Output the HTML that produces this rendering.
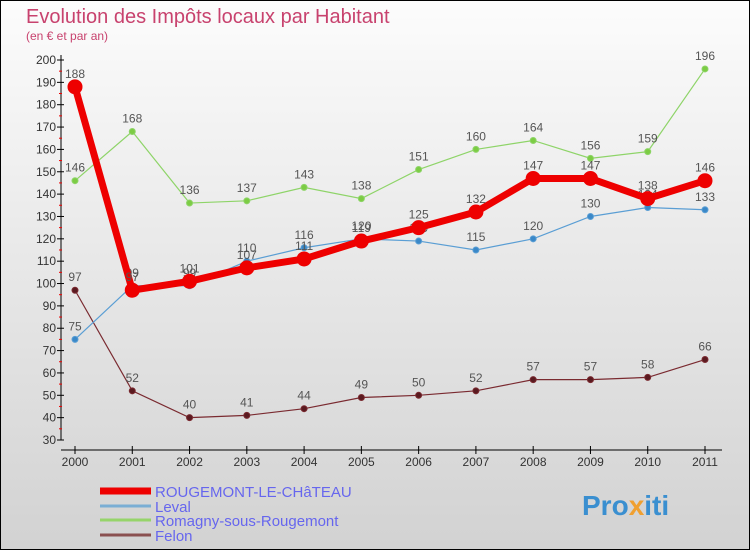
<!DOCTYPE html>
<html><head><meta charset="utf-8"><style>
body{margin:0;width:750px;height:550px;overflow:hidden;font-family:"Liberation Sans",sans-serif}
</style></head><body>
<svg id="c" width="750" height="550" xmlns="http://www.w3.org/2000/svg">
<defs><linearGradient id="bg" x1="0" y1="0" x2="0" y2="1"><stop offset="0" stop-color="#fcfcfc"/><stop offset="1" stop-color="#d2d2d2"/></linearGradient></defs>
<rect x="0.5" y="0.5" width="749" height="549" fill="url(#bg)" stroke="#000"/>
<text x="26" y="23" font-size="20" fill="#c8426e">Evolution des Impôts locaux par Habitant</text>
<text x="26" y="40" font-size="12" fill="#c8426e">(en € et par an)</text>
<g id="axes"></g><g id="series"></g><g id="legend"></g>
<text x="582" y="515" font-size="28" font-weight="bold" fill="#3a8fd0">Pro<tspan fill="#f0a030">x</tspan>iti</text>
</svg>
<script>
const years=[2000,2001,2002,2003,2004,2005,2006,2007,2008,2009,2010,2011];
const rougemont=[188,97,101,107,111,119,125,132,147,147,138,146];
const leval=[75,99,99,110,116,120,119,115,120,130,134,133];
const romagny=[146,168,136,137,143,138,151,160,164,156,159,196];
const felon=[97,52,40,41,44,49,50,52,57,57,58,66];
const yTicks=[30,40,50,60,70,80,90,100,110,120,130,140,150,160,170,180,190,200];
const NS="http://www.w3.org/2000/svg";
const xs=i=>75+i*(630/11);
const ys=v=>440-(v-30)*380/170;
function mk(t,a,p){const e=document.createElementNS(NS,t);for(const k in a)e.setAttribute(k,a[k]);p.appendChild(e);return e;}
const ax=document.getElementById('axes');
let e=mk('line',{x1:61,y1:55,x2:61,y2:440,stroke:'#000'},ax);


e=mk('line',{x1:61,y1:450,x2:722,y2:450,stroke:'#000'},ax);


yTicks.forEach(v=>{const y=ys(v);
mk('line',{x1:57,y1:y,x2:64,y2:y,stroke:'#000'},ax);
if(v<200)mk('line',{x1:59,y1:y-11.2,x2:62,y2:y-11.2,stroke:'#e00'},ax);
const t=mk('text',{x:56,y:y+4,'text-anchor':'end','font-size':12,fill:'#333'},ax);t.textContent=v;

});
years.forEach((yr,i)=>{const x=xs(i);
mk('line',{x1:x,y1:446,x2:x,y2:454,stroke:'#000'},ax);
const t=mk('text',{x:x,y:466,'text-anchor':'middle','font-size':12,fill:'#333'},ax);t.textContent=yr;

});
const sg=document.getElementById('series');
function series(data,color,dot,w,r,name){
const g=mk('g',{},sg);


mk('polyline',{points:data.map((v,i)=>xs(i)+','+ys(v)).join(' '),fill:'none',stroke:color,'stroke-width':w},g);
data.forEach((v,i)=>{const c=mk('circle',{cx:xs(i),cy:ys(v),r:r,fill:dot,stroke:color,'stroke-width':1},g);


const t=mk('text',{x:xs(i),y:ys(v)-9,'text-anchor':'middle','font-size':12,fill:'#555'},g);t.textContent=v;

});}
series(felon,'#7a2a30','#5a1a20',1.2,3,'series-felon');
series(romagny,'#8ed468','#7ccc44',1.2,3,'series-romagny');
series(leval,'#5a9ed4','#3a88c8',1.2,3,'series-leval');
series(rougemont,'#ee0000','#ee0000',7,7,'series-rougemont');
const lg=document.getElementById('legend');
[['ROUGEMONT-LE-CHâTEAU','#ee0000',7,494],['Leval','#7aaed4',3,509],['Romagny-sous-Rougemont','#96d46a',3,523],['Felon','#8a5050',3,538]].forEach(([n,c,w,y])=>{
const l=mk('line',{x1:100,y1:y-3,x2:151,y2:y-3,stroke:c,'stroke-width':w},lg);


const t=mk('text',{x:155,y:y+3,'font-size':15,fill:'#6666ee'},lg);t.textContent=n;

});
</script>
</body></html>
